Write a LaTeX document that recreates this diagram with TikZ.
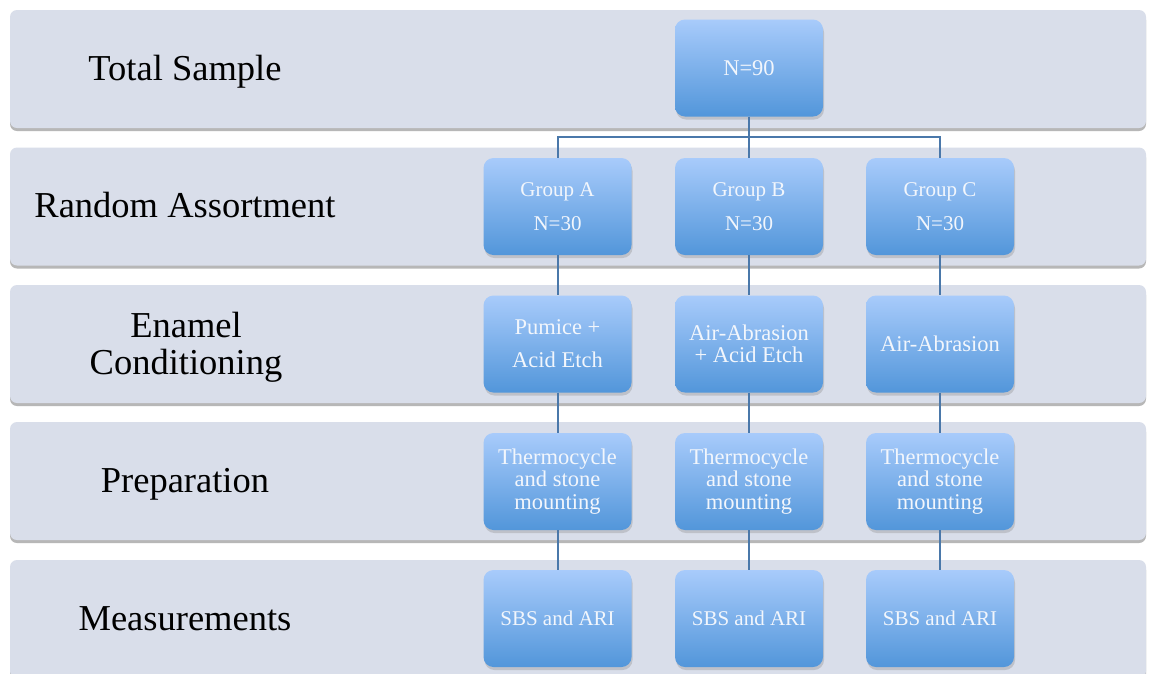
\documentclass[tikz,border=0pt]{standalone}
\usepackage{fontspec}
\setmainfont{Liberation Serif}
\usetikzlibrary{shadows}
\definecolor{bandfill}{HTML}{D9DEEA}
\definecolor{boxtop}{HTML}{A8CBFB}
\definecolor{boxbot}{HTML}{5296DA}
\definecolor{linecol}{HTML}{4A78AA}
\definecolor{boxtext}{HTML}{F2F6FC}
\begin{document}
\begin{tikzpicture}[x=1pt,y=-1pt,
 band/.style={rectangle, rounded corners=7pt, fill=bandfill, minimum width=1136pt, minimum height=118pt, inner sep=0pt,
   drop shadow={shadow xshift=0pt, shadow yshift=-3pt, opacity=0.4, fill=black!70}},
 box/.style={rectangle, rounded corners=10pt, minimum width=148pt, minimum height=97pt, inner sep=2pt,
   top color=boxtop, bottom color=boxbot, text=boxtext, align=center,
   font=\fontsize{22.5}{26}\selectfont,
   drop shadow={shadow xshift=1pt, shadow yshift=-3pt, opacity=0.3}},
 lab/.style={font=\fontsize{36.5}{37}\selectfont, text=black, align=center, anchor=base, inner sep=0pt},
 conn/.style={draw=linecol, line width=2pt}]
\useasboundingbox (0,0) rectangle (1156,673);
\fill[white] (0,0) rectangle (1156,673);
% bands
\node[band] (b1) at (578,69) {};
\node[band] (b2) at (578,206.5) {};
\node[band] (b3) at (578,344) {};
\node[band] (b4) at (578,481) {};
\node[band] (b5) at (578,619) {};
% labels
\node[lab] (l1) at (185,80) {Total Sample};
\node[lab] (l2) at (185,217) {Random Assortment};
\node[lab] (l3a) at (186,337) {Enamel};
\node[lab] (l3b) at (186,374) {Conditioning};
\node[lab] (l4) at (185,492) {Preparation};
\node[lab] (l5) at (185,630) {Measurements};
% boxes
\node[box] (n90) at (749,68) {N=90};
\node[box, font=\fontsize{21}{34}\selectfont] (ga) at (557.5,206.5) {Group A\\N=30};
\node[box, font=\fontsize{21}{34}\selectfont] (gb) at (749,206.5) {Group B\\N=30};
\node[box, font=\fontsize{21}{34}\selectfont] (gc) at (940,206.5) {Group C\\N=30};
\node[box, font=\fontsize{22.5}{33}\selectfont] (pa) at (557.5,344) {Pumice +\\Acid Etch};
\node[box, font=\fontsize{22.5}{22}\selectfont] (pb) at (749,344) {Air-Abrasion\\+ Acid Etch};
\node[box] (pc) at (940,344) {Air-Abrasion};
\node[box, font=\fontsize{22.5}{22.5}\selectfont] (ta) at (557.5,481.5) {Thermocycle\\and stone\\mounting};
\node[box, font=\fontsize{22.5}{22.5}\selectfont] (tb) at (749,481.5) {Thermocycle\\and stone\\mounting};
\node[box, font=\fontsize{22.5}{22.5}\selectfont] (tc) at (940,481.5) {Thermocycle\\and stone\\mounting};
\node[box, font=\fontsize{21}{26}\selectfont] (sa) at (557.5,618.5) {SBS and ARI};
\node[box, font=\fontsize{21}{26}\selectfont] (sb) at (749,618.5) {SBS and ARI};
\node[box, font=\fontsize{21}{26}\selectfont] (sc) at (940,618.5) {SBS and ARI};
% connectors
\coordinate (split) at (749,137);
\draw[conn] (n90.south) -- (split);
\draw[conn] (ga.north) |- (split) -| (gc.north);
\draw[conn] (split) -- (gb.north);
\foreach \a/\b in {ga/pa,gb/pb,gc/pc,pa/ta,pb/tb,pc/tc,ta/sa,tb/sb,tc/sc}
  \draw[conn] (\a.south) -- (\b.north);
\end{tikzpicture}
\end{document}
